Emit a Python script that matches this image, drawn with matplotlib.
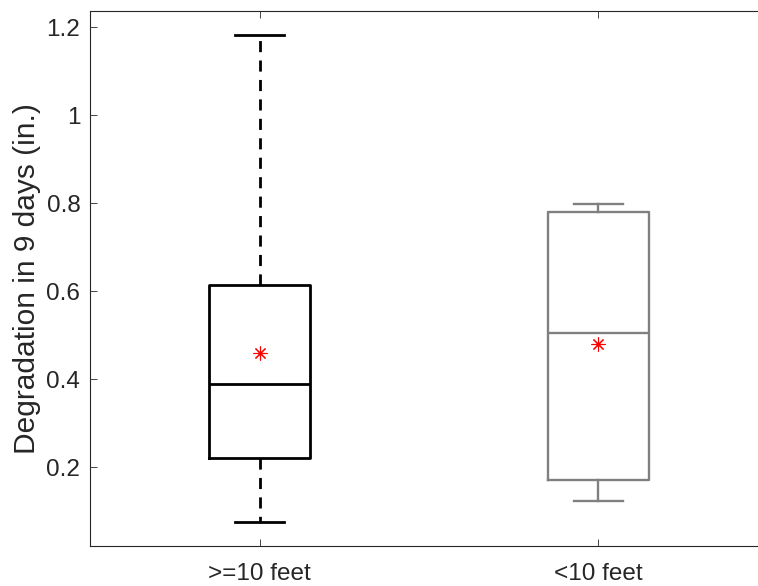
import matplotlib.pyplot as plt
from matplotlib.ticker import FixedLocator, FuncFormatter

plt.rcParams['font.family'] = ['Liberation Sans', 'DejaVu Sans']

# data
labels = [">=10 feet", "<10 feet"]
whislo = [0.075, 0.123]
q1 = [0.220, 0.171]
med = [0.389, 0.504]
q3 = [0.614, 0.779]
whishi = [1.182, 0.797]
means = [0.458, 0.479]

colors = ["black", "#808080"]
whisker_styles = [(0, (4, 3)), "-"]
widths = [2.0, 1.7]

fig = plt.figure(figsize=(7.58, 5.86), dpi=100)
ax = fig.add_axes([90 / 758, 1 - 546 / 586, 678 / 758, 535.5 / 586])

for i in range(len(labels)):
    stats = [dict(label=labels[i], whislo=whislo[i], q1=q1[i], med=med[i],
                  q3=q3[i], whishi=whishi[i], mean=means[i], fliers=[])]
    c = colors[i]
    lw = widths[i]
    ax.bxp(stats, positions=[i + 1], widths=0.3, showmeans=True,
           boxprops=dict(color=c, linewidth=lw),
           medianprops=dict(color=c, linewidth=lw),
           whiskerprops=dict(color=c, linewidth=lw, linestyle=whisker_styles[i]),
           capprops=dict(color=c, linewidth=lw),
           capwidths=0.145,
           meanprops=dict(marker=(8, 2, 0), markeredgecolor="red",
                          markerfacecolor="red", markersize=10,
                          markeredgewidth=0.8, linestyle="none"))

ax.set_xlim(0.5, 2.5)
ax.set_ylim(0.0205, 1.2375)
ax.set_xticks([1, 2])
ax.set_xticklabels(labels)
ax.yaxis.set_major_locator(FixedLocator([0.2, 0.4, 0.6, 0.8, 1.0, 1.2]))
ax.yaxis.set_major_formatter(FuncFormatter(lambda v, p: f"{v:g}"))
ax.set_ylabel("Degradation in 9 days (in.)", fontsize=21.5, color="#262626",
              labelpad=4)

ax.tick_params(direction="in", length=5, width=0.6, colors="#262626",
               labelsize=17.5, top=True, right=True)
ax.tick_params(axis="x", pad=12)
ax.tick_params(axis="y", pad=7)
for s in ax.spines.values():
    s.set_color("#262626")
    s.set_linewidth(0.8)

fig.savefig("out.png", dpi=100)
